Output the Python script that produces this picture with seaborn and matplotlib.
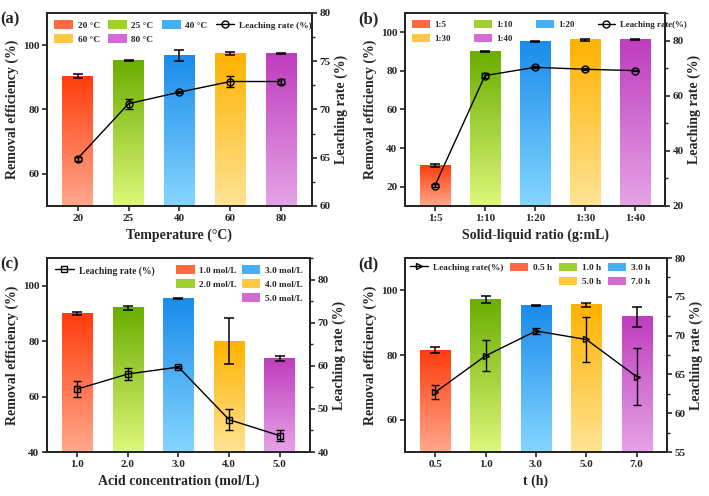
import numpy as np
import pandas as pd
import matplotlib
matplotlib.use("Agg")
import matplotlib.pyplot as plt
import seaborn as sns
from matplotlib.colors import to_rgb
from matplotlib.patches import Patch
from matplotlib.lines import Line2D
from matplotlib.ticker import AutoMinorLocator

# ---------------- data ----------------
a_cats = ['20', '25', '40', '60', '80']
a_leg = ['20 °C', '25 °C', '40 °C', '60 °C', '80 °C']
a_bar = [90.4, 95.3, 96.7, 97.5, 97.4]
a_bar_err = [0.5, 0.1, 1.7, 0.5, 0.3]
a_line = [64.9, 70.6, 71.8, 72.9, 72.9]
a_line_err = [0.2, 0.5, 0.1, 0.6, 0.3]

b_cats = ['1:5', '1:10', '1:20', '1:30', '1:40']
b_leg = ['1:5', '1:10', '1:20', '1:30', '1:40']
b_bar = [30.8, 90.1, 95.2, 96.1, 96.2]
b_bar_err = [0.8, 0.4, 0.1, 0.5, 0.2]
b_line = [27.4, 67.3, 70.3, 69.6, 69.1]
b_line_err = [0.6, 0.8, 0.3, 0.4, 0.2]

c_cats = ['1.0', '2.0', '3.0', '4.0', '5.0']
c_leg = ['1.0 mol/L', '2.0 mol/L', '3.0 mol/L', '4.0 mol/L', '5.0 mol/L']
c_bar = [89.9, 92.0, 95.3, 80.0, 73.8]
c_bar_err = [0.6, 0.6, 0.1, 8.2, 0.9]
c_line = [54.6, 58.1, 59.7, 47.5, 43.8]
c_line_err = [1.8, 1.3, 0.2, 2.4, 1.2]

d_cats = ['0.5', '1.0', '3.0', '5.0', '7.0']
d_leg = ['0.5 h', '1.0 h', '3.0 h', '5.0 h', '7.0 h']
d_bar = [81.5, 97.2, 95.4, 95.5, 91.8]
d_bar_err = [0.9, 1.2, 0.1, 0.5, 3.1]
d_line = [62.7, 67.4, 70.6, 69.5, 64.7]
d_line_err = [0.9, 2.0, 0.4, 2.9, 3.7]

top_colors = ['#FF3D0D', '#6BAE00', '#1A8CEB', '#FFB300', '#BF3DBF']
bottom_colors = ['#FFA88C', '#DDF77A', '#85D6FF', '#FFE394', '#E6A3E6']
mid_colors = ['#FF6A40', '#9ED030', '#45AEF5', '#FFC840', '#D46AD4']

# ---------------- style ----------------
sns.set_theme(style="ticks")
plt.rcParams['font.family'] = ['Liberation Serif', 'DejaVu Serif']
plt.rcParams['font.weight'] = 'bold'
plt.rcParams['axes.labelweight'] = 'bold'
plt.rcParams['axes.linewidth'] = 1.4
plt.rcParams['xtick.major.width'] = 1.2
plt.rcParams['ytick.major.width'] = 1.2
plt.rcParams['ytick.minor.width'] = 1.0
plt.rcParams['xtick.direction'] = 'out'
plt.rcParams['ytick.direction'] = 'out'

fig = plt.figure(figsize=(7.09, 4.96), dpi=100)

positions = {
    'a': [0.0663, 0.5847, 0.4400 - 0.0663, 0.9738 - 0.5847],
    'b': [0.5712, 0.5847, 0.9380 - 0.5712, 0.9738 - 0.5847],
    'c': [0.0663, 0.0887, 0.4372 - 0.0663, 0.4798 - 0.0887],
    'd': [0.5712, 0.0887, 0.9407 - 0.5712, 0.4798 - 0.0887],
}


def leg_kw(size=6.7, colsp=0.9, bax=0.5):
    return dict(frameon=False,
                prop={'family': 'Liberation Serif', 'weight': 'bold', 'size': size},
                handlelength=2.0, handleheight=1.0, columnspacing=colsp,
                handletextpad=0.5, labelspacing=0.5, borderaxespad=bax,
                borderpad=0.3)


def gradient_bars(ax, ybottom):
    for i, p in enumerate(ax.patches):
        x0 = p.get_x()
        w = p.get_width()
        h = p.get_height()
        n = 100
        t = np.linspace(0, 1, n)[:, None]
        c0 = np.array(to_rgb(bottom_colors[i]))
        c1 = np.array(to_rgb(top_colors[i]))
        img = (c0[None, :] * (1 - t) + c1[None, :] * t)[:, None, :]
        ax.imshow(img, extent=[x0, x0 + w, ybottom, h], origin='lower',
                  aspect='auto', zorder=1, interpolation='bilinear')
        p.set_facecolor('none')
        p.set_edgecolor('none')


def panel(key, cats, leg, bar, bar_err, line, line_err, marker,
          lylim, lyticks, rylim, ryticks, xlabel, line_label, legend_mode):
    ax = fig.add_axes(positions[key])
    df = pd.DataFrame({'cat': cats, 'val': bar})
    sns.barplot(data=df, x='cat', y='val', hue='cat', palette=mid_colors,
                width=0.6, legend=False, ax=ax, errorbar=None)
    gradient_bars(ax, lylim[0])
    xs = [p.get_x() + p.get_width() / 2 for p in ax.patches]
    ax.errorbar(xs, bar, yerr=bar_err, fmt='none', ecolor='black',
                elinewidth=1.1, capsize=3.6, capthick=1.1, zorder=3)
    ax.set_xlim(-0.6, 4.6)
    ax.set_ylim(*lylim)
    ax.set_yticks(lyticks)
    ax.set_xlabel(xlabel, fontsize=10, labelpad=4)
    ax.set_ylabel('Removal efficiency (%)', fontsize=10, labelpad=3)
    ax.tick_params(axis='both', labelsize=8, length=3.5, pad=2)

    ax2 = ax.twinx()
    ax2.errorbar(xs, line, yerr=line_err, fmt='-', color='black',
                 marker=marker, markersize=5, markerfacecolor='none',
                 markeredgecolor='black', markeredgewidth=1.0,
                 elinewidth=1.0, capsize=3, capthick=1.0, lw=1.0, zorder=5)
    ax2.set_ylim(*rylim)
    ax2.set_yticks(ryticks)
    ax2.yaxis.set_minor_locator(AutoMinorLocator(2))
    ax2.set_ylabel('Leaching rate (%)', fontsize=10, labelpad=3)
    ax2.tick_params(axis='y', labelsize=8, length=3.5, pad=2)
    ax2.tick_params(axis='y', which='minor', length=2)
    for sp in ax2.spines.values():
        sp.set_linewidth(1.4)

    bar_h = [Patch(facecolor=c, edgecolor='none') for c in mid_colors]
    line_h = Line2D([], [], color='black', marker=marker, markersize=5,
                    markerfacecolor='none', lw=1.0)
    blank = Patch(facecolor='none', edgecolor='none')
    if legend_mode == 'a':
        handles = [bar_h[0], bar_h[3], bar_h[1], bar_h[4], bar_h[2], line_h]
        labels = [leg[0], leg[3], leg[1], leg[4], leg[2], line_label]
        ax2.legend(handles, labels, ncol=4, loc='upper left', **leg_kw(6.7, 0.9))
    elif legend_mode == 'b':
        handles = [bar_h[0], bar_h[3], bar_h[1], bar_h[4], bar_h[2], line_h]
        labels = [leg[0], leg[3], leg[1], leg[4], leg[2], line_label]
        ax2.legend(handles, labels, ncol=4, loc='upper left', **leg_kw(6.4, 2.6))
    elif legend_mode == 'c':
        lg1 = ax2.legend([line_h], [line_label], loc='upper left', **leg_kw(6.9))
        ax2.add_artist(lg1)
        handles = [bar_h[0], bar_h[1], blank, bar_h[2], bar_h[3], bar_h[4]]
        labels = [leg[0], leg[1], '', leg[2], leg[3], leg[4]]
        ax2.legend(handles, labels, ncol=2, loc='upper right',
                   **leg_kw(6.7, 0.5))
    else:
        handles = [line_h, blank, bar_h[0], blank, bar_h[1], bar_h[3],
                   bar_h[2], bar_h[4]]
        labels = [line_label, '', leg[0], '', leg[1], leg[3], leg[2], leg[4]]
        ax2.legend(handles, labels, ncol=4, loc='upper left',
                   **leg_kw(6.7, 0.7, 0.2))
    fig.text(positions[key][0] - 0.066, positions[key][1] + positions[key][3] + 0.003,
             f'({key})', fontsize=12, fontweight='bold', va='top', ha='left')
    return ax, ax2


panel('a', a_cats, a_leg, a_bar, a_bar_err, a_line, a_line_err, 'o',
      (50, 110), [60, 80, 100], (60, 80), [60, 65, 70, 75, 80],
      'Temperature (°C)', 'Leaching rate (%)', 'a')
panel('b', b_cats, b_leg, b_bar, b_bar_err, b_line, b_line_err, 'o',
      (10, 110), [20, 40, 60, 80, 100], (20, 90), [20, 40, 60, 80],
      'Solid-liquid ratio (g:mL)', 'Leaching rate(%)', 'b')
panel('c', c_cats, c_leg, c_bar, c_bar_err, c_line, c_line_err, 's',
      (40, 110), [40, 60, 80, 100], (40, 85), [40, 50, 60, 70, 80],
      'Acid concentration (mol/L)', 'Leaching rate (%)', 'c')
panel('d', d_cats, d_leg, d_bar, d_bar_err, d_line, d_line_err, '>',
      (50, 110), [60, 80, 100], (55, 80), [55, 60, 65, 70, 75, 80],
      't (h)', 'Leaching rate(%)', 'd')

fig.savefig('out.png', dpi=100)
